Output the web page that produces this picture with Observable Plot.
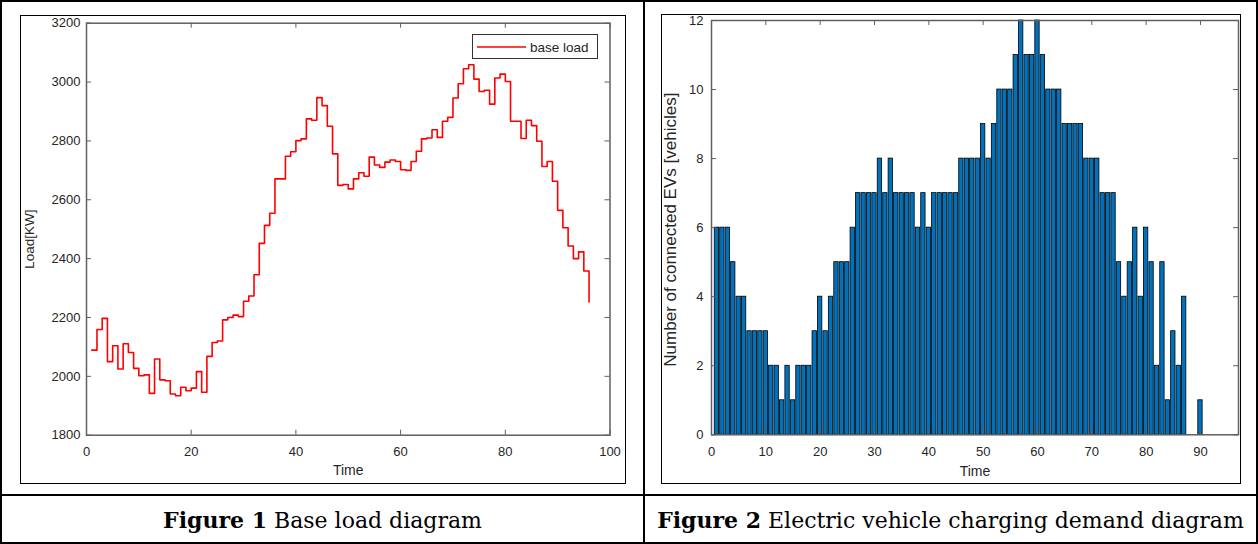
<!DOCTYPE html>
<html><head><meta charset="utf-8">
<script src="https://cdn.jsdelivr.net/npm/d3@7"></script>
<script src="https://cdn.jsdelivr.net/npm/@observablehq/plot@0.6"></script>
<style>
html,body{margin:0;padding:0;background:#fff;}
#root{position:relative;width:1258px;height:544px;overflow:hidden;font-family:"Liberation Sans",Arial,sans-serif;}
.abs{position:absolute;box-sizing:border-box;}
.cap{position:absolute;font-family:"DejaVu Serif",serif;font-size:22px;color:#000;text-align:center;white-space:nowrap;line-height:1;}
.chart{position:absolute;}
</style></head><body>
<div id="root">
  <div class="abs" style="left:0;top:0;width:1258px;height:544px;border:2.5px solid #000;"></div>
  <div class="abs" style="left:642.5px;top:0;width:2.5px;height:544px;background:#000;"></div>
  <div class="abs" style="left:0;top:493.5px;width:1258px;height:2.5px;background:#000;"></div>
  <div class="abs" style="left:20px;top:15px;width:606px;height:469px;border:1.5px solid #000;"></div>
  <div class="abs" style="left:661px;top:14px;width:580px;height:470px;border:1.5px solid #000;"></div>
  <div id="c1" class="chart" style="left:21px;top:16px;"></div>
  <div id="c2" class="chart" style="left:662px;top:15px;"></div>
  <div class="abs" style="left:472px;top:34px;width:126px;height:25px;border:1px solid #333;background:#fff;">
    <svg width="124" height="23" style="position:absolute;left:0;top:0;">
      <line x1="4" x2="53" y1="12" y2="12" stroke="#ff0000" stroke-width="1.6"></line>
      <text x="57" y="16.5" font-family="Liberation Sans, Arial, sans-serif" font-size="13.5" fill="#262626">base load</text>
    </svg>
  </div>
  <div class="cap" style="left:2px;width:641px;top:509px;"><b>Figure 1</b> Base load diagram</div>
  <div class="cap" style="left:645px;width:611px;top:509px;"><b>Figure 2</b> Electric vehicle charging demand diagram</div>
</div>
<script>
// ---- Figure 1: base load (step line), time slots 1..96 ----
const loadTime = Array.from({length: 96}, (_, i) => i + 1);
const baseLoad = [
  2089, 2159, 2197, 2050, 2104, 2025, 2111, 2081, 2027, 2002,
  2005, 1942, 2059, 1988, 1985, 1940, 1934, 1963, 1951, 1960,
  2016, 1946, 2068, 2115, 2120, 2192, 2200, 2208, 2203, 2255,
  2273, 2345, 2452, 2513, 2554, 2671, 2671, 2748, 2763, 2801,
  2807, 2875, 2870, 2947, 2920, 2850, 2756, 2649, 2652, 2637,
  2671, 2692, 2680, 2745, 2718, 2710, 2728, 2735, 2730, 2702,
  2700, 2730, 2765, 2807, 2810, 2838, 2812, 2867, 2880, 2946,
  2994, 3045, 3059, 3010, 2968, 2972, 2925, 3014, 3027, 3002,
  2867, 2867, 2808, 2870, 2852, 2799, 2713, 2730, 2663, 2564,
  2505, 2443, 2400, 2423, 2358, 2253
];
const loadXTicks = [0, 20, 40, 60, 80, 100];
const loadYTicks = [1800, 2000, 2200, 2400, 2600, 2800, 3000, 3200];

// ---- Figure 2: connected EVs per time slot ----
const evTime = Array.from({length: 96}, (_, i) => i + 1);
const evCount = [
  6, 6, 6, 5, 4, 4, 3, 3, 3, 3,
  2, 2, 1, 2, 1, 2, 2, 2, 3, 4,
  3, 4, 5, 5, 5, 6, 7, 7, 7, 7,
  8, 7, 8, 7, 7, 7, 7, 6, 7, 6,
  7, 7, 7, 7, 7, 8, 8, 8, 8, 9,
  8, 9, 10, 10, 10, 11, 12, 11, 11, 12,
  11, 10, 10, 10, 9, 9, 9, 9, 8, 8,
  8, 7, 7, 7, 5, 4, 5, 6, 4, 6,
  5, 2, 5, 1, 3, 2, 4, 0, 0, 1,
  0, 0, 0, 0, 0, 0
];
const evXTicks = [0, 10, 20, 30, 40, 50, 60, 70, 80, 90];
const evYTicks = [0, 2, 4, 6, 8, 10, 12];

const loadRows = loadTime.map((t, i) => ({t, v: baseLoad[i]}));
const evRows = evTime.map((t, i) => ({t, n: evCount[i]}));

const axisColor = "#5f5f5f";
const tickLen = 5;
const font = "Liberation Sans, Arial, sans-serif";
const textColor = "#262626";
const plain = d => String(d);

function boxTicks(xt, yt, pw, ph) {
  return [
    Plot.ruleX(xt, {x: d => d, insetTop: ph - tickLen, stroke: axisColor, strokeWidth: 1}),
    Plot.ruleX(xt, {x: d => d, insetBottom: ph - tickLen, stroke: axisColor, strokeWidth: 1}),
    Plot.ruleY(yt, {y: d => d, insetRight: pw - tickLen, stroke: axisColor, strokeWidth: 1}),
    Plot.ruleY(yt, {y: d => d, insetLeft: pw - tickLen, stroke: axisColor, strokeWidth: 1})
  ];
}

// Chart 1
{
  const W = 604, H = 467;
  const m = {top: 6.7, right: 15.5, bottom: 48.3, left: 65};
  const pw = W - m.left - m.right, ph = H - m.top - m.bottom;
  const p = Plot.plot({
    width: W, height: H,
    marginTop: m.top, marginRight: m.right, marginBottom: m.bottom, marginLeft: m.left,
    style: {fontFamily: font, fontSize: "13px", color: textColor, background: "transparent", overflow: "visible"},
    x: {domain: [0, 100]},
    y: {domain: [1800, 3200]},
    marks: [
      Plot.line(loadRows, {x: "t", y: "v", curve: "step-after", stroke: "#ff0000", strokeWidth: 1.6}),
      ...boxTicks(loadXTicks, loadYTicks, pw, ph),
      Plot.frame({stroke: axisColor, strokeWidth: 1.5}),
      Plot.axisX(loadXTicks, {tickSize: 0, tickPadding: 12, label: null, fill: textColor, tickFormat: plain}),
      Plot.axisY(loadYTicks, {tickSize: 0, tickPadding: 6, label: null, fill: textColor, tickFormat: plain}),
      Plot.text(["Time"], {text: d => d, frameAnchor: "bottom", dy: 40, fontSize: 14, fill: textColor}),
      Plot.text(["Load[KW]"], {text: d => d, frameAnchor: "left", textAnchor: "middle", dx: -57, dy: 10, rotate: -90, fontSize: 13.5, fill: textColor})
    ]
  });
  document.getElementById("c1").appendChild(p);
}

// Chart 2
{
  const W = 578, H = 468;
  const m = {top: 5, right: 2, bottom: 48.7, left: 49};
  const pw = W - m.left - m.right, ph = H - m.top - m.bottom;
  const p = Plot.plot({
    width: W, height: H,
    marginTop: m.top, marginRight: m.right, marginBottom: m.bottom, marginLeft: m.left,
    style: {fontFamily: font, fontSize: "13px", color: textColor, background: "transparent", overflow: "visible"},
    x: {domain: [0, 97]},
    y: {domain: [0, 12]},
    marks: [
      Plot.rectY(evRows, {x1: d => d.t - 0.4, x2: d => d.t + 0.4, y1: 0, y2: "n", fill: "#0072BD", stroke: "#000", strokeWidth: 0.8}),
      ...boxTicks(evXTicks, evYTicks, pw, ph),
      Plot.frame({stroke: axisColor, strokeWidth: 1.5}),
      Plot.axisX(evXTicks, {tickSize: 0, tickPadding: 12, label: null, fill: textColor, tickFormat: plain}),
      Plot.axisY(evYTicks, {tickSize: 0, tickPadding: 8, label: null, fill: textColor, tickFormat: plain}),
      Plot.text(["Time"], {text: d => d, frameAnchor: "bottom", dy: 41, fontSize: 14, fill: textColor}),
      Plot.text(["Number of connected EVs [vehicles]"], {text: d => d, frameAnchor: "left", textAnchor: "middle", dx: -41, dy: 2, rotate: -90, fontSize: 17, fill: textColor})
    ]
  });
  document.getElementById("c2").appendChild(p);
}
</script>
</body></html>
